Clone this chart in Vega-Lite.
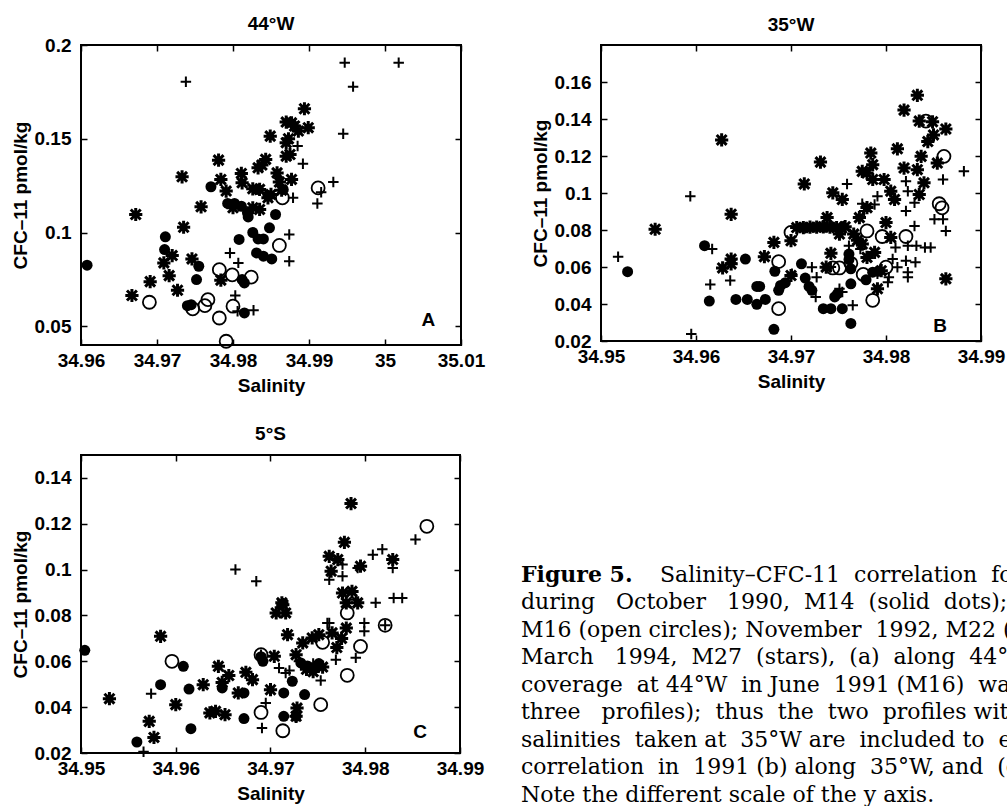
{
  "$schema": "https://vega.github.io/schema/vega-lite/v6.json",
  "background": "white",
  "padding": {"left": 10, "top": 14, "right": 0, "bottom": 0},
  "config": {
    "font": "Liberation Sans",
    "view": {"stroke": "black", "strokeWidth": 2},
    "axis": {"domain": false, "grid": false, "tickColor": "black", "tickSize": -6, "tickWidth": 1.5, "labelFont": "Liberation Sans", "labelFontWeight": "bold", "labelFontSize": 19, "labelColor": "black", "titleFont": "Liberation Sans", "titleFontWeight": "bold", "titleFontSize": 19, "titleColor": "black", "labelOverlap": false, "labelFlush": false, "format": "~g", "titlePadding": 4},
    "axisX": {"labelPadding": 12, "titlePadding": 6},
    "axisY": {"labelPadding": 16},
    "title": {"font": "Liberation Sans", "fontSize": 19, "fontWeight": "bold", "color": "black", "offset": 10},
    "point": {"opacity": 1}
  },
  "datasets": {
    "A": [
      {"cruise":"M14","sal":34.9608,"cfc":0.0826},{"cruise":"M14","sal":34.9711,"cfc":0.0977},{"cruise":"M14","sal":34.9710,"cfc":0.0909},{"cruise":"M14","sal":34.9755,"cfc":0.0820},{"cruise":"M14","sal":34.9752,"cfc":0.0749},{"cruise":"M14","sal":34.9740,"cfc":0.0610},{"cruise":"M14","sal":34.9771,"cfc":0.1244},{"cruise":"M14","sal":34.9793,"cfc":0.1155},{"cruise":"M14","sal":34.9802,"cfc":0.1155},{"cruise":"M14","sal":34.9811,"cfc":0.1140},{"cruise":"M14","sal":34.9819,"cfc":0.1105},{"cruise":"M14","sal":34.9820,"cfc":0.1083},{"cruise":"M14","sal":34.9808,"cfc":0.0963},{"cruise":"M14","sal":34.9812,"cfc":0.0749},{"cruise":"M14","sal":34.9815,"cfc":0.0731},{"cruise":"M14","sal":34.9815,"cfc":0.0571},{"cruise":"M14","sal":34.9826,"cfc":0.1000},{"cruise":"M14","sal":34.9833,"cfc":0.0966},{"cruise":"M14","sal":34.9840,"cfc":0.0966},{"cruise":"M14","sal":34.9831,"cfc":0.0891},{"cruise":"M14","sal":34.9840,"cfc":0.0874},{"cruise":"M14","sal":34.9851,"cfc":0.0859},{"cruise":"M14","sal":34.9848,"cfc":0.1025},{"cruise":"M14","sal":34.9856,"cfc":0.1096},{"cruise":"M14","sal":34.9833,"cfc":0.1230},{"cruise":"M14","sal":34.9846,"cfc":0.1198},{"cruise":"M14","sal":34.9866,"cfc":0.1230},{"cruise":"M14","sal":34.9745,"cfc":0.0615},
      {"cruise":"M16","sal":34.9690,"cfc":0.0628},{"cruise":"M16","sal":34.9747,"cfc":0.0593},{"cruise":"M16","sal":34.9763,"cfc":0.0610},{"cruise":"M16","sal":34.9767,"cfc":0.0642},{"cruise":"M16","sal":34.9782,"cfc":0.0802},{"cruise":"M16","sal":34.9799,"cfc":0.0774},{"cruise":"M16","sal":34.9824,"cfc":0.0762},{"cruise":"M16","sal":34.9782,"cfc":0.0544},{"cruise":"M16","sal":34.9791,"cfc":0.0420},{"cruise":"M16","sal":34.9800,"cfc":0.0607},{"cruise":"M16","sal":34.9861,"cfc":0.0931},{"cruise":"M16","sal":34.9865,"cfc":0.1185},{"cruise":"M16","sal":34.9912,"cfc":0.1238},
      {"cruise":"M22","sal":34.9738,"cfc":0.1804},{"cruise":"M22","sal":34.9947,"cfc":0.1906},{"cruise":"M22","sal":35.0018,"cfc":0.1906},{"cruise":"M22","sal":34.9958,"cfc":0.1778},{"cruise":"M22","sal":34.9945,"cfc":0.1527},{"cruise":"M22","sal":34.9932,"cfc":0.1269},{"cruise":"M22","sal":34.9911,"cfc":0.1155},{"cruise":"M22","sal":34.9916,"cfc":0.1215},{"cruise":"M22","sal":34.9892,"cfc":0.1367},{"cruise":"M22","sal":34.9885,"cfc":0.1461},{"cruise":"M22","sal":34.9879,"cfc":0.1185},{"cruise":"M22","sal":34.9874,"cfc":0.0989},{"cruise":"M22","sal":34.9874,"cfc":0.0847},{"cruise":"M22","sal":34.9796,"cfc":0.0891},{"cruise":"M22","sal":34.9807,"cfc":0.0838},{"cruise":"M22","sal":34.9803,"cfc":0.0664},{"cruise":"M22","sal":34.9806,"cfc":0.0580},{"cruise":"M22","sal":34.9827,"cfc":0.0585},
      {"cruise":"M27","sal":34.9667,"cfc":0.0664},{"cruise":"M27","sal":34.9691,"cfc":0.0738},{"cruise":"M27","sal":34.9672,"cfc":0.1096},{"cruise":"M27","sal":34.9709,"cfc":0.0838},{"cruise":"M27","sal":34.9716,"cfc":0.0770},{"cruise":"M27","sal":34.9720,"cfc":0.0877},{"cruise":"M27","sal":34.9727,"cfc":0.0692},{"cruise":"M27","sal":34.9735,"cfc":0.1028},{"cruise":"M27","sal":34.9733,"cfc":0.1297},{"cruise":"M27","sal":34.9746,"cfc":0.0859},{"cruise":"M27","sal":34.9758,"cfc":0.1137},{"cruise":"M27","sal":34.9781,"cfc":0.1386},{"cruise":"M27","sal":34.9784,"cfc":0.1283},{"cruise":"M27","sal":34.9791,"cfc":0.1221},{"cruise":"M27","sal":34.9784,"cfc":0.0746},{"cruise":"M27","sal":34.9811,"cfc":0.1315},{"cruise":"M27","sal":34.9812,"cfc":0.1265},{"cruise":"M27","sal":34.9826,"cfc":0.1233},{"cruise":"M27","sal":34.9835,"cfc":0.1230},{"cruise":"M27","sal":34.9833,"cfc":0.1345},{"cruise":"M27","sal":34.9843,"cfc":0.1390},{"cruise":"M27","sal":34.9849,"cfc":0.1514},{"cruise":"M27","sal":34.9826,"cfc":0.1132},{"cruise":"M27","sal":34.9835,"cfc":0.1123},{"cruise":"M27","sal":34.9846,"cfc":0.1185},{"cruise":"M27","sal":34.9850,"cfc":0.1203},{"cruise":"M27","sal":34.9858,"cfc":0.1318},{"cruise":"M27","sal":34.9861,"cfc":0.1269},{"cruise":"M27","sal":34.9870,"cfc":0.1479},{"cruise":"M27","sal":34.9870,"cfc":0.1407},{"cruise":"M27","sal":34.9875,"cfc":0.1416},{"cruise":"M27","sal":34.9877,"cfc":0.1283},{"cruise":"M27","sal":34.9870,"cfc":0.1589},{"cruise":"M27","sal":34.9877,"cfc":0.1585},{"cruise":"M27","sal":34.9881,"cfc":0.1568},{"cruise":"M27","sal":34.9886,"cfc":0.1541},{"cruise":"M27","sal":34.9894,"cfc":0.1660},{"cruise":"M27","sal":34.9899,"cfc":0.1559},{"cruise":"M27","sal":34.9864,"cfc":0.1226},{"cruise":"M27","sal":34.9800,"cfc":0.1132},{"cruise":"M27","sal":34.9838,"cfc":0.1360},{"cruise":"M27","sal":34.9873,"cfc":0.1500}
    ],
    "B": [
      {"cruise":"M14","sal":34.9528,"cfc":0.0575},{"cruise":"M14","sal":34.9609,"cfc":0.0715},{"cruise":"M14","sal":34.9614,"cfc":0.0416},{"cruise":"M14","sal":34.9642,"cfc":0.0425},{"cruise":"M14","sal":34.9652,"cfc":0.0643},{"cruise":"M14","sal":34.9654,"cfc":0.0425},{"cruise":"M14","sal":34.9664,"cfc":0.0495},{"cruise":"M14","sal":34.9667,"cfc":0.0495},{"cruise":"M14","sal":34.9664,"cfc":0.0398},{"cruise":"M14","sal":34.9673,"cfc":0.0425},{"cruise":"M14","sal":34.9683,"cfc":0.0577},{"cruise":"M14","sal":34.9682,"cfc":0.0263},{"cruise":"M14","sal":34.9687,"cfc":0.0474},{"cruise":"M14","sal":34.9689,"cfc":0.0500},{"cruise":"M14","sal":34.9694,"cfc":0.0515},{"cruise":"M14","sal":34.9711,"cfc":0.0617},{"cruise":"M14","sal":34.9715,"cfc":0.0540},{"cruise":"M14","sal":34.9719,"cfc":0.0495},{"cruise":"M14","sal":34.9722,"cfc":0.0474},{"cruise":"M14","sal":34.9734,"cfc":0.0375},{"cruise":"M14","sal":34.9742,"cfc":0.0375},{"cruise":"M14","sal":34.9746,"cfc":0.0438},{"cruise":"M14","sal":34.9749,"cfc":0.0456},{"cruise":"M14","sal":34.9754,"cfc":0.0375},{"cruise":"M14","sal":34.9763,"cfc":0.0295},{"cruise":"M14","sal":34.9761,"cfc":0.0670},{"cruise":"M14","sal":34.9763,"cfc":0.0509},{"cruise":"M14","sal":34.9763,"cfc":0.0590},{"cruise":"M14","sal":34.9779,"cfc":0.0531},{"cruise":"M14","sal":34.9786,"cfc":0.0572},{"cruise":"M14","sal":34.9792,"cfc":0.0577},{"cruise":"M14","sal":34.9761,"cfc":0.0640},
      {"cruise":"M16","sal":34.9687,"cfc":0.0629},{"cruise":"M16","sal":34.9687,"cfc":0.0375},{"cruise":"M16","sal":34.9700,"cfc":0.0787},{"cruise":"M16","sal":34.9744,"cfc":0.0595},{"cruise":"M16","sal":34.9751,"cfc":0.0595},{"cruise":"M16","sal":34.9763,"cfc":0.0620},{"cruise":"M16","sal":34.9780,"cfc":0.0795},{"cruise":"M16","sal":34.9776,"cfc":0.0560},{"cruise":"M16","sal":34.9786,"cfc":0.0420},{"cruise":"M16","sal":34.9796,"cfc":0.0765},{"cruise":"M16","sal":34.9800,"cfc":0.0599},{"cruise":"M16","sal":34.9821,"cfc":0.0765},{"cruise":"M16","sal":34.9856,"cfc":0.0942},{"cruise":"M16","sal":34.9859,"cfc":0.0920},{"cruise":"M16","sal":34.9861,"cfc":0.1198},{"cruise":"M16","sal":34.9842,"cfc":0.1389},
      {"cruise":"M22","sal":34.9518,"cfc":0.0656},{"cruise":"M22","sal":34.9594,"cfc":0.0983},{"cruise":"M22","sal":34.9595,"cfc":0.0238},{"cruise":"M22","sal":34.9617,"cfc":0.0697},{"cruise":"M22","sal":34.9615,"cfc":0.0506},{"cruise":"M22","sal":34.9636,"cfc":0.0527},{"cruise":"M22","sal":34.9701,"cfc":0.0563},{"cruise":"M22","sal":34.9722,"cfc":0.0599},{"cruise":"M22","sal":34.9727,"cfc":0.0545},{"cruise":"M22","sal":34.9726,"cfc":0.0438},{"cruise":"M22","sal":34.9751,"cfc":0.0482},{"cruise":"M22","sal":34.9754,"cfc":0.0465},{"cruise":"M22","sal":34.9765,"cfc":0.0393},{"cruise":"M22","sal":34.9759,"cfc":0.1049},{"cruise":"M22","sal":34.9761,"cfc":0.0715},{"cruise":"M22","sal":34.9791,"cfc":0.0983},{"cruise":"M22","sal":34.9788,"cfc":0.0938},{"cruise":"M22","sal":34.9777,"cfc":0.0903},{"cruise":"M22","sal":34.9821,"cfc":0.1064},{"cruise":"M22","sal":34.9823,"cfc":0.1010},{"cruise":"M22","sal":34.9821,"cfc":0.0903},{"cruise":"M22","sal":34.9830,"cfc":0.0947},{"cruise":"M22","sal":34.9830,"cfc":0.0822},{"cruise":"M22","sal":34.9860,"cfc":0.1073},{"cruise":"M22","sal":34.9882,"cfc":0.1117},{"cruise":"M22","sal":34.9851,"cfc":0.0858},{"cruise":"M22","sal":34.9860,"cfc":0.0858},{"cruise":"M22","sal":34.9863,"cfc":0.0795},{"cruise":"M22","sal":34.9823,"cfc":0.0715},{"cruise":"M22","sal":34.9832,"cfc":0.0715},{"cruise":"M22","sal":34.9841,"cfc":0.0706},{"cruise":"M22","sal":34.9847,"cfc":0.0706},{"cruise":"M22","sal":34.9810,"cfc":0.0706},{"cruise":"M22","sal":34.9807,"cfc":0.0643},{"cruise":"M22","sal":34.9821,"cfc":0.0634},{"cruise":"M22","sal":34.9831,"cfc":0.0626},{"cruise":"M22","sal":34.9812,"cfc":0.0599},{"cruise":"M22","sal":34.9823,"cfc":0.0572},{"cruise":"M22","sal":34.9823,"cfc":0.0545},{"cruise":"M22","sal":34.9803,"cfc":0.0545},{"cruise":"M22","sal":34.9802,"cfc":0.0518},{"cruise":"M22","sal":34.9791,"cfc":0.0563},{"cruise":"M22","sal":34.9773,"cfc":0.0697},{"cruise":"M22","sal":34.9775,"cfc":0.0942},{"cruise":"M22","sal":34.9715,"cfc":0.0810},{"cruise":"M22","sal":34.9735,"cfc":0.0815},{"cruise":"M22","sal":34.9755,"cfc":0.0820},{"cruise":"M22","sal":34.9742,"cfc":0.0600},
      {"cruise":"M27","sal":34.9557,"cfc":0.0804},{"cruise":"M27","sal":34.9627,"cfc":0.1287},{"cruise":"M27","sal":34.9637,"cfc":0.0885},{"cruise":"M27","sal":34.9628,"cfc":0.0595},{"cruise":"M27","sal":34.9637,"cfc":0.0643},{"cruise":"M27","sal":34.9637,"cfc":0.0617},{"cruise":"M27","sal":34.9672,"cfc":0.0656},{"cruise":"M27","sal":34.9682,"cfc":0.0733},{"cruise":"M27","sal":34.9700,"cfc":0.0742},{"cruise":"M27","sal":34.9700,"cfc":0.0554},{"cruise":"M27","sal":34.9714,"cfc":0.1049},{"cruise":"M27","sal":34.9731,"cfc":0.1167},{"cruise":"M27","sal":34.9706,"cfc":0.0813},{"cruise":"M27","sal":34.9713,"cfc":0.0813},{"cruise":"M27","sal":34.9720,"cfc":0.0815},{"cruise":"M27","sal":34.9727,"cfc":0.0815},{"cruise":"M27","sal":34.9734,"cfc":0.0817},{"cruise":"M27","sal":34.9741,"cfc":0.0815},{"cruise":"M27","sal":34.9748,"cfc":0.0813},{"cruise":"M27","sal":34.9753,"cfc":0.0810},{"cruise":"M27","sal":34.9757,"cfc":0.0818},{"cruise":"M27","sal":34.9738,"cfc":0.0867},{"cruise":"M27","sal":34.9744,"cfc":0.1001},{"cruise":"M27","sal":34.9754,"cfc":0.0965},{"cruise":"M27","sal":34.9742,"cfc":0.0674},{"cruise":"M27","sal":34.9737,"cfc":0.0599},{"cruise":"M27","sal":34.9751,"cfc":0.0778},{"cruise":"M27","sal":34.9766,"cfc":0.0778},{"cruise":"M27","sal":34.9772,"cfc":0.0867},{"cruise":"M27","sal":34.9775,"cfc":0.1117},{"cruise":"M27","sal":34.9780,"cfc":0.1108},{"cruise":"M27","sal":34.9784,"cfc":0.1216},{"cruise":"M27","sal":34.9786,"cfc":0.1153},{"cruise":"M27","sal":34.9786,"cfc":0.1073},{"cruise":"M27","sal":34.9780,"cfc":0.0921},{"cruise":"M27","sal":34.9775,"cfc":0.0724},{"cruise":"M27","sal":34.9780,"cfc":0.0652},{"cruise":"M27","sal":34.9788,"cfc":0.0679},{"cruise":"M27","sal":34.9791,"cfc":0.0482},{"cruise":"M27","sal":34.9798,"cfc":0.1073},{"cruise":"M27","sal":34.9805,"cfc":0.1010},{"cruise":"M27","sal":34.9809,"cfc":0.0965},{"cruise":"M27","sal":34.9812,"cfc":0.1239},{"cruise":"M27","sal":34.9819,"cfc":0.1448},{"cruise":"M27","sal":34.9819,"cfc":0.1135},{"cruise":"M27","sal":34.9833,"cfc":0.1528},{"cruise":"M27","sal":34.9835,"cfc":0.1389},{"cruise":"M27","sal":34.9837,"cfc":0.1198},{"cruise":"M27","sal":34.9833,"cfc":0.1126},{"cruise":"M27","sal":34.9835,"cfc":0.0992},{"cruise":"M27","sal":34.9840,"cfc":0.1055},{"cruise":"M27","sal":34.9844,"cfc":0.1278},{"cruise":"M27","sal":34.9849,"cfc":0.1385},{"cruise":"M27","sal":34.9850,"cfc":0.1314},{"cruise":"M27","sal":34.9854,"cfc":0.1162},{"cruise":"M27","sal":34.9863,"cfc":0.1346},{"cruise":"M27","sal":34.9863,"cfc":0.0536},{"cruise":"M27","sal":34.9800,"cfc":0.0840},{"cruise":"M27","sal":34.9805,"cfc":0.0760},{"cruise":"M27","sal":34.9770,"cfc":0.0745},{"cruise":"M27","sal":34.9795,"cfc":0.0580}
    ],
    "C": [
      {"cruise":"M14","sal":34.9504,"cfc":0.0648},{"cruise":"M14","sal":34.9559,"cfc":0.0248},{"cruise":"M14","sal":34.9584,"cfc":0.0498},{"cruise":"M14","sal":34.9608,"cfc":0.0578},{"cruise":"M14","sal":34.9614,"cfc":0.0479},{"cruise":"M14","sal":34.9616,"cfc":0.0306},{"cruise":"M14","sal":34.9649,"cfc":0.0484},{"cruise":"M14","sal":34.9672,"cfc":0.0462},{"cruise":"M14","sal":34.9672,"cfc":0.0350},{"cruise":"M14","sal":34.9692,"cfc":0.0600},{"cruise":"M14","sal":34.9714,"cfc":0.0462},{"cruise":"M14","sal":34.9714,"cfc":0.0360},{"cruise":"M14","sal":34.9723,"cfc":0.0513},{"cruise":"M14","sal":34.9736,"cfc":0.0455},{"cruise":"M14","sal":34.9727,"cfc":0.0360},{"cruise":"M14","sal":34.9732,"cfc":0.0593},{"cruise":"M14","sal":34.9739,"cfc":0.0580},{"cruise":"M14","sal":34.9746,"cfc":0.0570},{"cruise":"M14","sal":34.9751,"cfc":0.0590},{"cruise":"M14","sal":34.9690,"cfc":0.0620},
      {"cruise":"M16","sal":34.9596,"cfc":0.0600},{"cruise":"M16","sal":34.9690,"cfc":0.0629},{"cruise":"M16","sal":34.9690,"cfc":0.0377},{"cruise":"M16","sal":34.9713,"cfc":0.0297},{"cruise":"M16","sal":34.9753,"cfc":0.0411},{"cruise":"M16","sal":34.9781,"cfc":0.0539},{"cruise":"M16","sal":34.9795,"cfc":0.0665},{"cruise":"M16","sal":34.9821,"cfc":0.0757},{"cruise":"M16","sal":34.9865,"cfc":0.1189},{"cruise":"M16","sal":34.9781,"cfc":0.0811},{"cruise":"M16","sal":34.9755,"cfc":0.0683},
      {"cruise":"M22","sal":34.9566,"cfc":0.0205},{"cruise":"M22","sal":34.9574,"cfc":0.0459},{"cruise":"M22","sal":34.9663,"cfc":0.1000},{"cruise":"M22","sal":34.9685,"cfc":0.0949},{"cruise":"M22","sal":34.9691,"cfc":0.0309},{"cruise":"M22","sal":34.9695,"cfc":0.0418},{"cruise":"M22","sal":34.9709,"cfc":0.0571},{"cruise":"M22","sal":34.9716,"cfc":0.0549},{"cruise":"M22","sal":34.9753,"cfc":0.0516},{"cruise":"M22","sal":34.9760,"cfc":0.0767},{"cruise":"M22","sal":34.9853,"cfc":0.1131},{"cruise":"M22","sal":34.9808,"cfc":0.1065},{"cruise":"M22","sal":34.9818,"cfc":0.1089},{"cruise":"M22","sal":34.9792,"cfc":0.1007},{"cruise":"M22","sal":34.9829,"cfc":0.1007},{"cruise":"M22","sal":34.9830,"cfc":0.0876},{"cruise":"M22","sal":34.9839,"cfc":0.0876},{"cruise":"M22","sal":34.9811,"cfc":0.0855},{"cruise":"M22","sal":34.9799,"cfc":0.0767},{"cruise":"M22","sal":34.9799,"cfc":0.0731},{"cruise":"M22","sal":34.9790,"cfc":0.0869},{"cruise":"M22","sal":34.9776,"cfc":0.1022},{"cruise":"M22","sal":34.9776,"cfc":0.0971},{"cruise":"M22","sal":34.9762,"cfc":0.0956},{"cruise":"M22","sal":34.9762,"cfc":0.0767},{"cruise":"M22","sal":34.9790,"cfc":0.0615},{"cruise":"M22","sal":34.9769,"cfc":0.0607},{"cruise":"M22","sal":34.9821,"cfc":0.0757},{"cruise":"M22","sal":34.9690,"cfc":0.0629},{"cruise":"M22","sal":34.9720,"cfc":0.0560},{"cruise":"M22","sal":34.9730,"cfc":0.0600},{"cruise":"M22","sal":34.9745,"cfc":0.0590},
      {"cruise":"M27","sal":34.9530,"cfc":0.0437},{"cruise":"M27","sal":34.9572,"cfc":0.0338},{"cruise":"M27","sal":34.9577,"cfc":0.0268},{"cruise":"M27","sal":34.9584,"cfc":0.0709},{"cruise":"M27","sal":34.9600,"cfc":0.0411},{"cruise":"M27","sal":34.9629,"cfc":0.0498},{"cruise":"M27","sal":34.9636,"cfc":0.0375},{"cruise":"M27","sal":34.9642,"cfc":0.0382},{"cruise":"M27","sal":34.9652,"cfc":0.0367},{"cruise":"M27","sal":34.9645,"cfc":0.0578},{"cruise":"M27","sal":34.9649,"cfc":0.0508},{"cruise":"M27","sal":34.9656,"cfc":0.0538},{"cruise":"M27","sal":34.9666,"cfc":0.0462},{"cruise":"M27","sal":34.9674,"cfc":0.0552},{"cruise":"M27","sal":34.9681,"cfc":0.0520},{"cruise":"M27","sal":34.9700,"cfc":0.0476},{"cruise":"M27","sal":34.9704,"cfc":0.0622},{"cruise":"M27","sal":34.9706,"cfc":0.0811},{"cruise":"M27","sal":34.9713,"cfc":0.0847},{"cruise":"M27","sal":34.9716,"cfc":0.0811},{"cruise":"M27","sal":34.9718,"cfc":0.0716},{"cruise":"M27","sal":34.9728,"cfc":0.0396},{"cruise":"M27","sal":34.9727,"cfc":0.0360},{"cruise":"M27","sal":34.9727,"cfc":0.0629},{"cruise":"M27","sal":34.9734,"cfc":0.0680},{"cruise":"M27","sal":34.9744,"cfc":0.0702},{"cruise":"M27","sal":34.9751,"cfc":0.0716},{"cruise":"M27","sal":34.9765,"cfc":0.0724},{"cruise":"M27","sal":34.9762,"cfc":0.1058},{"cruise":"M27","sal":34.9771,"cfc":0.1044},{"cruise":"M27","sal":34.9764,"cfc":0.0993},{"cruise":"M27","sal":34.9776,"cfc":0.0898},{"cruise":"M27","sal":34.9780,"cfc":0.0855},{"cruise":"M27","sal":34.9786,"cfc":0.0905},{"cruise":"M27","sal":34.9778,"cfc":0.1119},{"cruise":"M27","sal":34.9785,"cfc":0.1288},{"cruise":"M27","sal":34.9792,"cfc":0.0855},{"cruise":"M27","sal":34.9795,"cfc":0.1015},{"cruise":"M27","sal":34.9829,"cfc":0.1044},{"cruise":"M27","sal":34.9738,"cfc":0.0565},{"cruise":"M27","sal":34.9745,"cfc":0.0555},{"cruise":"M27","sal":34.9755,"cfc":0.0575},{"cruise":"M27","sal":34.9770,"cfc":0.0660},{"cruise":"M27","sal":34.9775,"cfc":0.0700},{"cruise":"M27","sal":34.9780,"cfc":0.0745},{"cruise":"M27","sal":34.9712,"cfc":0.0855}
    ],
    "caption": [
      {"line": 1, "part": "head", "txt": "Figure 5."},
      {"line": 1, "part": "first", "txt": "Salinity–CFC-11 \u00a0correlation \u00a0for"},
      {"line": 2, "part": "body", "txt": "during \u00a0\u00a0October \u00a0\u00a01990, \u00a0M14 \u00a0(solid \u00a0dots); \u00a0June"},
      {"line": 3, "part": "body", "txt": "M16 (open circles); November \u00a01992, M22 (crosses);"},
      {"line": 4, "part": "body", "txt": "March \u00a0\u00a01994, \u00a0M27 \u00a0(stars), \u00a0(a) \u00a0along \u00a044°W. The"},
      {"line": 5, "part": "body", "txt": "coverage \u00a0at 44°W \u00a0in June \u00a01991 (M16) \u00a0was poor"},
      {"line": 6, "part": "body", "txt": "three \u00a0\u00a0profiles); \u00a0thus \u00a0the \u00a0two \u00a0profiles with"},
      {"line": 7, "part": "body", "txt": "salinities \u00a0taken at \u00a035°W are \u00a0included to \u00a0extend"},
      {"line": 8, "part": "body", "txt": "correlation \u00a0in \u00a01991 (b) along \u00a035°W, and \u00a0(c)"},
      {"line": 9, "part": "body", "txt": "Note the different scale of the y axis."}
    ]
  },
  "spacing": 28,
  "vconcat": [
    {
      "spacing": 44,
      "hconcat": [
        {
          "width": 380, "height": 300,
          "title": {"text": "44°W", "offset": 2},
          "data": {"name": "A"},
          "layer": [
            {"transform": [{"filter": "datum.cruise === 'M14'"}],
             "mark": {"type": "point", "shape": "circle", "filled": true, "color": "black", "size": 121},
             "encoding": {
               "x": {"field": "sal", "type": "quantitative", "scale": {"domain": [34.96, 35.01], "nice": false, "zero": false}, "axis": {"orient": "bottom", "title": "Salinity", "values": [34.96, 34.97, 34.98, 34.99, 35, 35.01]}},
               "y": {"field": "cfc", "type": "quantitative", "scale": {"domain": [0.04, 0.2], "nice": false, "zero": false}, "axis": {"orient": "left", "title": "CFC–11 pmol/kg", "values": [0.05, 0.1, 0.15, 0.2]}}}},
            {"transform": [{"filter": "datum.cruise === 'M16'"}],
             "mark": {"type": "point", "shape": "circle", "filled": false, "color": "black", "strokeWidth": 1.8, "size": 169},
             "encoding": {
               "x": {"field": "sal", "type": "quantitative", "scale": {"domain": [34.96, 35.01], "nice": false, "zero": false}, "axis": {"orient": "top", "title": null, "labels": false, "values": [34.96, 34.97, 34.98, 34.99, 35, 35.01]}},
               "y": {"field": "cfc", "type": "quantitative", "scale": {"domain": [0.04, 0.2], "nice": false, "zero": false}, "axis": {"orient": "right", "title": null, "labels": false, "values": [0.05, 0.1, 0.15, 0.2]}}}},
            {"transform": [{"filter": "datum.cruise === 'M22'"}],
             "mark": {"type": "point", "shape": "M-1,0L1,0M0,-1L0,1", "filled": false, "color": "black", "strokeWidth": 2, "size": 110},
             "encoding": {
               "x": {"field": "sal", "type": "quantitative", "axis": null},
               "y": {"field": "cfc", "type": "quantitative", "axis": null}}},
            {"transform": [{"filter": "datum.cruise === 'M27'"}],
             "mark": {"type": "point", "shape": "M-1,0L1,0M0,-1L0,1M-0.75,-0.75L0.75,0.75M-0.75,0.75L0.75,-0.75", "filled": false, "color": "black", "strokeWidth": 3, "size": 175},
             "encoding": {
               "x": {"field": "sal", "type": "quantitative", "axis": null},
               "y": {"field": "cfc", "type": "quantitative", "axis": null}}},
            {"data": {"values": [{"letter": "A", "sal": 35.0057, "cfc": 0.0533}]},
             "mark": {"type": "text", "font": "Liberation Sans", "fontWeight": "bold", "fontSize": 19, "color": "black"},
             "encoding": {
               "x": {"field": "sal", "type": "quantitative", "axis": null},
               "y": {"field": "cfc", "type": "quantitative", "axis": null},
               "text": {"field": "letter"}}}
          ],
          "resolve": {"axis": {"x": "independent", "y": "independent"}}
        },
        {
          "width": 380, "height": 296,
          "title": {"text": "35°W", "offset": 9},
          "data": {"name": "B"},
          "layer": [
            {"transform": [{"filter": "datum.cruise === 'M14'"}],
             "mark": {"type": "point", "shape": "circle", "filled": true, "color": "black", "size": 121},
             "encoding": {
               "x": {"field": "sal", "type": "quantitative", "scale": {"domain": [34.95, 34.99], "nice": false, "zero": false}, "axis": {"orient": "bottom", "title": "Salinity", "values": [34.95, 34.96, 34.97, 34.98, 34.99]}},
               "y": {"field": "cfc", "type": "quantitative", "scale": {"domain": [0.02, 0.18], "nice": false, "zero": false}, "axis": {"orient": "left", "title": "CFC–11 pmol/kg", "values": [0.02, 0.04, 0.06, 0.08, 0.1, 0.12, 0.14, 0.16]}}}},
            {"transform": [{"filter": "datum.cruise === 'M16'"}],
             "mark": {"type": "point", "shape": "circle", "filled": false, "color": "black", "strokeWidth": 1.8, "size": 169},
             "encoding": {
               "x": {"field": "sal", "type": "quantitative", "scale": {"domain": [34.95, 34.99], "nice": false, "zero": false}, "axis": {"orient": "top", "title": null, "labels": false, "values": [34.95, 34.96, 34.97, 34.98, 34.99]}},
               "y": {"field": "cfc", "type": "quantitative", "scale": {"domain": [0.02, 0.18], "nice": false, "zero": false}, "axis": {"orient": "right", "title": null, "labels": false, "values": [0.02, 0.04, 0.06, 0.08, 0.1, 0.12, 0.14, 0.16]}}}},
            {"transform": [{"filter": "datum.cruise === 'M22'"}],
             "mark": {"type": "point", "shape": "M-1,0L1,0M0,-1L0,1", "filled": false, "color": "black", "strokeWidth": 2, "size": 110},
             "encoding": {
               "x": {"field": "sal", "type": "quantitative", "axis": null},
               "y": {"field": "cfc", "type": "quantitative", "axis": null}}},
            {"transform": [{"filter": "datum.cruise === 'M27'"}],
             "mark": {"type": "point", "shape": "M-1,0L1,0M0,-1L0,1M-0.75,-0.75L0.75,0.75M-0.75,0.75L0.75,-0.75", "filled": false, "color": "black", "strokeWidth": 3, "size": 175},
             "encoding": {
               "x": {"field": "sal", "type": "quantitative", "axis": null},
               "y": {"field": "cfc", "type": "quantitative", "axis": null}}},
            {"data": {"values": [{"letter": "B", "sal": 34.9857, "cfc": 0.0281}]},
             "mark": {"type": "text", "font": "Liberation Sans", "fontWeight": "bold", "fontSize": 19, "color": "black"},
             "encoding": {
               "x": {"field": "sal", "type": "quantitative", "axis": null},
               "y": {"field": "cfc", "type": "quantitative", "axis": null},
               "text": {"field": "letter"}}}
          ],
          "resolve": {"axis": {"x": "independent", "y": "independent"}}
        }
      ]
    },
    {
      "spacing": 30,
      "hconcat": [
        {
          "width": 379, "height": 298,
          "title": "5°S",
          "data": {"name": "C"},
          "layer": [
            {"transform": [{"filter": "datum.cruise === 'M14'"}],
             "mark": {"type": "point", "shape": "circle", "filled": true, "color": "black", "size": 121},
             "encoding": {
               "x": {"field": "sal", "type": "quantitative", "scale": {"domain": [34.95, 34.99], "nice": false, "zero": false}, "axis": {"orient": "bottom", "title": "Salinity", "values": [34.95, 34.96, 34.97, 34.98, 34.99]}},
               "y": {"field": "cfc", "type": "quantitative", "scale": {"domain": [0.02, 0.15], "nice": false, "zero": false}, "axis": {"orient": "left", "title": "CFC–11 pmol/kg", "values": [0.02, 0.04, 0.06, 0.08, 0.1, 0.12, 0.14]}}}},
            {"transform": [{"filter": "datum.cruise === 'M16'"}],
             "mark": {"type": "point", "shape": "circle", "filled": false, "color": "black", "strokeWidth": 1.8, "size": 169},
             "encoding": {
               "x": {"field": "sal", "type": "quantitative", "scale": {"domain": [34.95, 34.99], "nice": false, "zero": false}, "axis": {"orient": "top", "title": null, "labels": false, "values": [34.95, 34.96, 34.97, 34.98, 34.99]}},
               "y": {"field": "cfc", "type": "quantitative", "scale": {"domain": [0.02, 0.15], "nice": false, "zero": false}, "axis": {"orient": "right", "title": null, "labels": false, "values": [0.02, 0.04, 0.06, 0.08, 0.1, 0.12, 0.14]}}}},
            {"transform": [{"filter": "datum.cruise === 'M22'"}],
             "mark": {"type": "point", "shape": "M-1,0L1,0M0,-1L0,1", "filled": false, "color": "black", "strokeWidth": 2, "size": 110},
             "encoding": {
               "x": {"field": "sal", "type": "quantitative", "axis": null},
               "y": {"field": "cfc", "type": "quantitative", "axis": null}}},
            {"transform": [{"filter": "datum.cruise === 'M27'"}],
             "mark": {"type": "point", "shape": "M-1,0L1,0M0,-1L0,1M-0.75,-0.75L0.75,0.75M-0.75,0.75L0.75,-0.75", "filled": false, "color": "black", "strokeWidth": 3, "size": 175},
             "encoding": {
               "x": {"field": "sal", "type": "quantitative", "axis": null},
               "y": {"field": "cfc", "type": "quantitative", "axis": null}}},
            {"data": {"values": [{"letter": "C", "sal": 34.9858, "cfc": 0.0292}]},
             "mark": {"type": "text", "font": "Liberation Sans", "fontWeight": "bold", "fontSize": 19, "color": "black"},
             "encoding": {
               "x": {"field": "sal", "type": "quantitative", "axis": null},
               "y": {"field": "cfc", "type": "quantitative", "axis": null},
               "text": {"field": "letter"}}}
          ],
          "resolve": {"axis": {"x": "independent", "y": "independent"}}
        },
        {
          "width": 492, "height": 351,
          "view": {"stroke": null},
          "data": {"name": "caption"},
          "encoding": {
            "y": {"field": "line", "type": "quantitative", "scale": {"domain": [-3.618, 9.146], "reverse": true, "nice": false, "zero": false}, "axis": null},
            "x": {"value": 6},
            "text": {"field": "txt"}
          },
          "layer": [
            {"transform": [{"filter": "datum.part === 'head'"}],
             "mark": {"type": "text", "align": "left", "baseline": "alphabetic", "font": "DejaVu Serif", "fontWeight": "bold", "fontSize": 22, "color": "black", "clip": true}},
            {"transform": [{"filter": "datum.part === 'first'"}],
             "mark": {"type": "text", "align": "left", "baseline": "alphabetic", "font": "DejaVu Serif", "fontSize": 22, "color": "black", "dx": 139, "clip": true}},
            {"transform": [{"filter": "datum.part === 'body'"}],
             "mark": {"type": "text", "align": "left", "baseline": "alphabetic", "font": "DejaVu Serif", "fontSize": 22, "color": "black", "clip": true}}
          ]
        }
      ]
    }
  ]
}
